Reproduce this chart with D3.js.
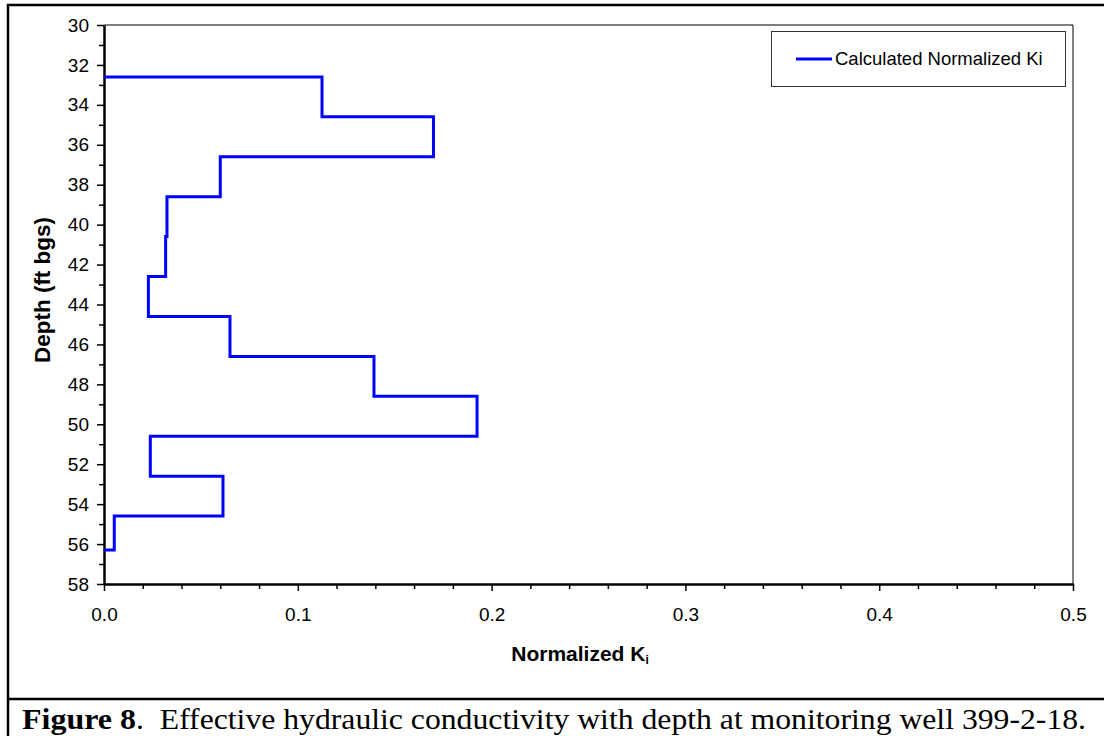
<!DOCTYPE html>
<html>
<head>
<meta charset="utf-8">
<script src="https://cdn.jsdelivr.net/npm/d3@7"></script>
<style>
  body { margin: 0; background: #fff; }
  svg { display: block; }
  text { font-family: "Liberation Sans", Arial, sans-serif; fill: #000; }
  .serif { font-family: "Liberation Serif", "Times New Roman", serif; }
</style>
</head>
<body>
<div id="chart"></div>
<script>
// depth bounds of each interval (ft bgs) and the normalized K for that interval
const depthBounds = [32.6, 34.6, 36.6, 38.6, 40.6, 42.6, 44.6, 46.6, 48.6, 50.6, 52.6, 54.6, 56.3];
const normK = [0.1125, 0.170, 0.060, 0.0325, 0.0318, 0.0229, 0.065, 0.1393, 0.1925, 0.0239, 0.0614, 0.0053];
const xTicks = [0.0, 0.1, 0.2, 0.3, 0.4, 0.5];
const yTicks = [30, 32, 34, 36, 38, 40, 42, 44, 46, 48, 50, 52, 54, 56, 58];
const seriesName = "Calculated Normalized Ki";

const width = 1104, height = 736;
const plot = {left: 104, right: 1073, top: 25, bottom: 584};

const svg = d3.select("#chart").append("svg")
  .attr("width", width)
  .attr("height", height);

// outer figure frame + caption separator
svg.append("path")
  .attr("d", "M1104,5 H8 V736")
  .attr("fill", "none").attr("stroke", "#000").attr("stroke-width", 2.5);
svg.append("line")
  .attr("x1", 8).attr("x2", 1104).attr("y1", 699).attr("y2", 699)
  .attr("stroke", "#000").attr("stroke-width", 2.5);

const x = d3.scaleLinear().domain([0, 0.5]).range([plot.left, plot.right]);
const y = d3.scaleLinear().domain([30, 58]).range([plot.top, plot.bottom]);

// thin top/right border of plot area
svg.append("path")
  .attr("d", `M${plot.left},${plot.top} H${plot.right} V${plot.bottom}`)
  .attr("fill", "none").attr("stroke", "#000").attr("stroke-width", 1);

// minor ticks
svg.append("g")
  .attr("transform", `translate(${plot.left},0)`)
  .call(d3.axisLeft(y).tickValues(d3.range(31, 58, 2)).tickSize(5).tickFormat(""))
  .call(g => g.select(".domain").remove())
  .selectAll("line").attr("stroke-width", 1.5);
svg.append("g")
  .attr("transform", `translate(0,${plot.bottom})`)
  .call(d3.axisBottom(x).tickValues(d3.range(0.02, 0.5, 0.02).filter(v => Math.abs(v * 10 - Math.round(v * 10)) > 1e-6)).tickSize(5).tickFormat(""))
  .call(g => g.select(".domain").remove())
  .selectAll("line").attr("stroke-width", 1.5);

// major axes
const yAxis = svg.append("g")
  .attr("transform", `translate(${plot.left},0)`)
  .call(d3.axisLeft(y).tickValues(yTicks).tickSize(7).tickPadding(8).tickSizeOuter(0));
yAxis.select(".domain").attr("stroke-width", 2.5);
yAxis.selectAll("line").attr("stroke-width", 1.5);
yAxis.selectAll("text").style("font-size", "19px").style("font-family", "'Liberation Sans', Arial, sans-serif");

const xAxis = svg.append("g")
  .attr("transform", `translate(0,${plot.bottom})`)
  .call(d3.axisBottom(x).tickValues(xTicks).tickSize(7).tickPadding(17).tickSizeOuter(0).tickFormat(d3.format(".1f")));
xAxis.select(".domain").attr("stroke-width", 2.5);
xAxis.selectAll("line").attr("stroke-width", 1.5);
xAxis.selectAll("text").style("font-size", "19px").style("font-family", "'Liberation Sans', Arial, sans-serif");

// step line built from intervals
const pts = [[0, depthBounds[0]]];
normK.forEach((k, i) => {
  pts.push([k, depthBounds[i]]);
  pts.push([k, depthBounds[i + 1]]);
});
pts.push([0, depthBounds[depthBounds.length - 1]]);

const line = d3.line().x(d => x(d[0])).y(d => y(d[1]));
svg.append("path")
  .datum(pts)
  .attr("d", line)
  .attr("fill", "none")
  .attr("stroke", "#0000ff")
  .attr("stroke-width", 3)
  .attr("stroke-linejoin", "miter");

// legend
const lg = svg.append("g");
lg.append("rect")
  .attr("x", 771.5).attr("y", 31.5).attr("width", 294).attr("height", 55)
  .attr("fill", "#fff").attr("stroke", "#333").attr("stroke-width", 1);
lg.append("line")
  .attr("x1", 796).attr("x2", 832).attr("y1", 59).attr("y2", 59)
  .attr("stroke", "#0000ff").attr("stroke-width", 3);
lg.append("text")
  .attr("x", 835).attr("y", 65)
  .style("font-size", "18.5px")
  .text(seriesName);

// axis titles
const xt = svg.append("text")
  .attr("x", 580).attr("y", 661)
  .attr("text-anchor", "middle")
  .style("font-size", "21px").style("font-weight", "bold");
xt.append("tspan").text("Normalized K");
xt.append("tspan").attr("dy", 3).style("font-size", "12px").text("i");

svg.append("text")
  .attr("transform", "translate(50,290) rotate(-90)")
  .attr("text-anchor", "middle")
  .style("font-size", "22.5px").style("font-weight", "bold")
  .text("Depth (ft bgs)");

// caption
svg.append("text")
  .attr("class", "serif")
  .attr("x", 22).attr("y", 729)
  .attr("textLength", 114).attr("lengthAdjust", "spacingAndGlyphs")
  .style("font-size", "29px").style("font-weight", "bold")
  .text("Figure 8");
svg.append("text")
  .attr("class", "serif")
  .attr("x", 136).attr("y", 729)
  .attr("textLength", 950).attr("lengthAdjust", "spacingAndGlyphs")
  .style("font-size", "29px")
  .text(".\u00a0 Effective hydraulic conductivity with depth at monitoring well 399-2-18.");
</script>
</body>
</html>
